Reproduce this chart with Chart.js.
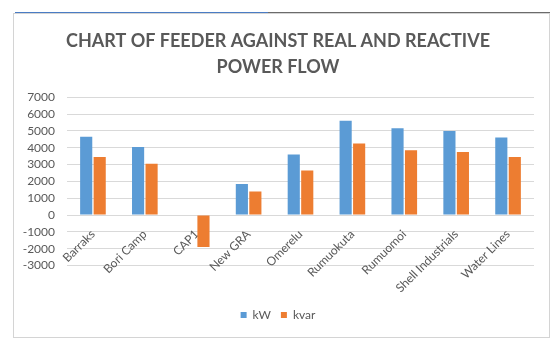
<!DOCTYPE html>
<html>
<head>
<meta charset="utf-8">
<script src="https://cdn.jsdelivr.net/npm/chart.js@4"></script>
<style>
  html, body { margin: 0; padding: 0; background: #fff; }
  body { width: 555px; height: 339px; position: relative; overflow: hidden; }
  .topline1 { position: absolute; left: 15px; top: 12px; width: 253px; height: 2px; background: #4a7cc4; }
  .topline2 { position: absolute; left: 268px; top: 12px; width: 282px; height: 2px; background: #6b6b6b; }
  .frame { position: absolute; left: 13px; top: 13px; width: 535px; height: 323px; border: 1px solid #d4d4d4; background: #fff; }
  .frame canvas { position: absolute; left: 0; top: 0; }
</style>
</head>
<body>
<div class="topline1"></div>
<div class="topline2"></div>
<div class="frame">
  <canvas id="chart" width="535" height="323"></canvas>
</div>
<script>
var feeders = ["Barraks", "Bori Camp", "CAP1", "New GRA", "Omerelu", "Rumuokuta", "Rumuomoi", "Shell Industrials", "Water Lines"];
var kW = [4650, 4050, 0, 1850, 3600, 5600, 5150, 5000, 4600];
var kvar = [3450, 3050, -1900, 1400, 2650, 4250, 3850, 3750, 3450];

var grey = "#595959";
var ctx = document.getElementById("chart");

new Chart(ctx, {
  type: "bar",
  data: {
    labels: feeders,
    datasets: [
      { label: "kW", data: kW, backgroundColor: "#5B9BD5", categoryPercentage: 0.52, barPercentage: 0.9 },
      { label: "kvar", data: kvar, backgroundColor: "#ED7D31", categoryPercentage: 0.52, barPercentage: 0.9 }
    ]
  },
  options: {
    responsive: false,
    animation: false,
    layout: { padding: { left: 8, right: 15, top: 0, bottom: 6 } },
    plugins: {
      title: {
        display: true,
        text: ["CHART OF FEEDER AGAINST REAL AND REACTIVE", "POWER FLOW"],
        color: grey,
        font: { family: "Lato", size: 18, weight: "bold", lineHeight: 1.45 },
        padding: { top: 14, bottom: 17 }
      },
      legend: {
        position: "bottom",
        // empty title only used to push the keys down below the rotated labels
        title: { display: true, text: "", padding: { top: 19, bottom: 0 }, font: { family: "Lato", size: 12 } },
        labels: {
          color: grey,
          boxWidth: 6,
          boxHeight: 6,
          padding: 10,
          font: { family: "Lato", size: 12 }
        }
      },
      tooltip: { enabled: false }
    },
    scales: {
      x: {
        position: { y: 0 },
        grid: { display: false },
        border: { display: false },
        ticks: {
          color: grey,
          font: { family: "Lato", size: 12 },
          minRotation: 45,
          maxRotation: 45,
          autoSkip: false,
          padding: 4
        }
      },
      y: {
        min: -3000,
        max: 7000,
        grid: { color: "#d9d9d9", drawTicks: false },
        border: { display: false },
        ticks: {
          stepSize: 1000,
          autoSkip: false,
          color: grey,
          padding: 12,
          font: { family: "Lato", size: 12 },
          callback: function (v) { return String(v); }
        },
        afterFit: function (scale) { scale.width = 45; }
      }
    }
  }
});
</script>
</body>
</html>
